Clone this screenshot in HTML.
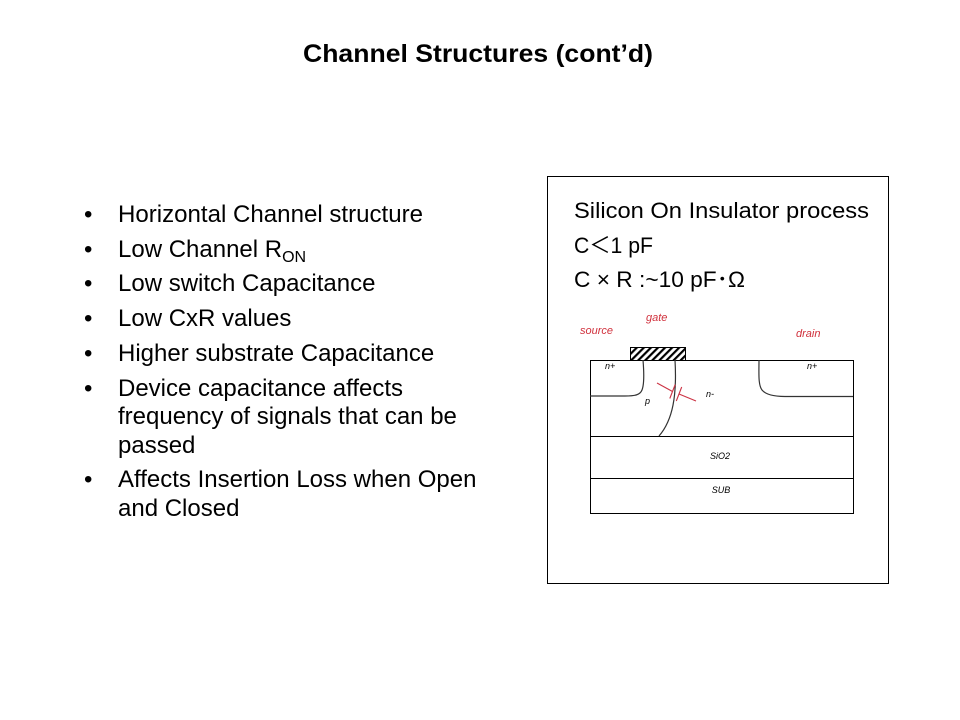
<!DOCTYPE html>
<html>
<head>
<meta charset="utf-8">
<style>
  html,body{margin:0;padding:0;background:#fff;}
  body{width:960px;height:720px;overflow:hidden;}
  svg{display:block;}
  text{font-family:"Liberation Sans","Noto Sans CJK JP",sans-serif;fill:#000;}
</style>
</head>
<body>
<svg width="960" height="720" viewBox="0 0 960 720" xmlns="http://www.w3.org/2000/svg">
  <defs>
    <pattern id="hatch" patternUnits="userSpaceOnUse" width="5" height="5" patternTransform="rotate(45)">
      <rect width="5" height="5" fill="#fff"/>
      <rect x="0" y="0" width="2.2" height="5" fill="#000"/>
    </pattern>
  </defs>
  <rect width="960" height="720" fill="#fff"/>

  <!-- Title -->
  <text x="303" y="62" font-size="25" font-weight="bold" textLength="350" lengthAdjust="spacingAndGlyphs">Channel Structures (cont’d)</text>

  <!-- Bullets -->
  <g font-size="24">
    <text x="84" y="222">•</text>
    <text x="118" y="222" textLength="305" lengthAdjust="spacingAndGlyphs">Horizontal Channel structure</text>

    <text x="84" y="257">•</text>
    <text x="118" y="257">Low Channel R<tspan font-size="16" dy="5">ON</tspan></text>

    <text x="84" y="291">•</text>
    <text x="118" y="291">Low switch Capacitance</text>

    <text x="84" y="326">•</text>
    <text x="118" y="326">Low CxR values</text>

    <text x="84" y="361">•</text>
    <text x="118" y="361">Higher substrate Capacitance</text>

    <text x="84" y="396">•</text>
    <text x="118" y="396">Device capacitance affects</text>
    <text x="118" y="424">frequency of signals that can be</text>
    <text x="118" y="453">passed</text>

    <text x="84" y="487">•</text>
    <text x="118" y="487">Affects Insertion Loss when Open</text>
    <text x="118" y="516">and Closed</text>
  </g>

  <!-- Right box -->
  <rect x="547.5" y="176.5" width="341" height="407" fill="none" stroke="#000" stroke-width="1"/>
  <g font-size="22">
    <text x="574" y="218" textLength="295" lengthAdjust="spacingAndGlyphs">Silicon On Insulator process</text>
    <text x="574" y="253" textLength="79" lengthAdjust="spacingAndGlyphs">C＜1 pF</text>
    <text x="574" y="287" textLength="171" lengthAdjust="spacingAndGlyphs">C × R :~10 pF･Ω</text>
  </g>

  <!-- Device cross-section -->
  <g fill="none" stroke="#000" stroke-width="1">
    <rect x="590.5" y="360.5" width="263" height="153"/>
    <line x1="590.5" y1="436.5" x2="853.5" y2="436.5"/>
    <line x1="590.5" y1="478.5" x2="853.5" y2="478.5"/>
  </g>
  <rect x="630.5" y="347.5" width="55" height="13" fill="url(#hatch)" stroke="#000" stroke-width="1"/>

  <g fill="none" stroke="#333" stroke-width="1.2">
    <path d="M643,360 C644,372 644,385 642,390 C640,395 635,396 625,396 L590,396"/>
    <path d="M759,360 C759,372 758,385 762,390 C766,395 775,396.5 785,396.5 L853,396.5"/>
    <path d="M675,360 C677,395 673,420 659,436"/>
  </g>

  <!-- capacitor symbol -->
  <g stroke="#cc3344" stroke-width="1.1" fill="none">
    <line x1="657" y1="383" x2="672.5" y2="391.5"/>
    <line x1="669.8" y1="398.5" x2="675.2" y2="384.5"/>
    <line x1="676.3" y1="401" x2="681.7" y2="387"/>
    <line x1="679" y1="394" x2="696" y2="401"/>
  </g>

  <!-- small labels -->
  <g font-size="9" font-style="italic">
    <text x="605" y="369">n+</text>
    <text x="807" y="369">n+</text>
    <text x="645" y="404">p</text>
    <text x="706" y="397">n-</text>
    <text x="720" y="459" text-anchor="middle">SiO2</text>
    <text x="721" y="493" text-anchor="middle">SUB</text>
  </g>
  <g font-size="11" font-style="italic">
    <text x="580" y="334" style="fill:#d0303c">source</text>
    <text x="646" y="321" style="fill:#d0303c">gate</text>
    <text x="796" y="337" style="fill:#d0303c">drain</text>
  </g>
</svg>
</body>
</html>
